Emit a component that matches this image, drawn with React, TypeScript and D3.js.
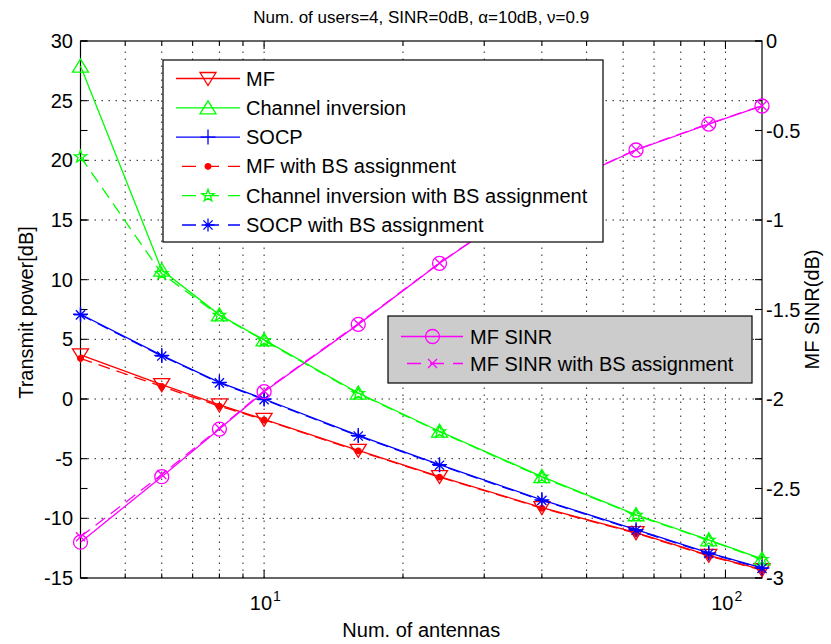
import React from "react";
import * as d3 from "d3";

// ---------- data ----------
const antennas = [4, 6, 8, 10, 16, 24, 40, 64, 92, 120];
const mfPower = [3.7, 1.2, -0.5, -1.7, -4.3, -6.5, -9.1, -11.2, -13.1, -14.3];
const ciPower = [27.9, 10.8, 7.05, 4.95, 0.5, -2.7, -6.5, -9.7, -11.8, -13.4];
const socpPower = [7.1, 3.65, 1.4, 0.0, -3.05, -5.5, -8.45, -10.95, -12.9, -14.15];
const mfBSPower = [3.4, 1.05, -0.6, -1.75, -4.35, -6.55, -9.15, -11.25, -13.15, -14.35];
const ciBSPower = [20.3, 10.5, 7.0, 4.9, 0.45, -2.75, -6.55, -9.75, -11.85, -13.45];
const socpBSPower = [7.05, 3.6, 1.35, -0.05, -3.1, -5.55, -8.5, -11.0, -12.95, -14.2];
const mfSinr = [-2.8, -2.434, -2.168, -1.959, -1.583, -1.242, -0.85, -0.609, -0.464, -0.363];
const mfSinrBS = [-2.77, -2.422, -2.163, -1.955, -1.58, -1.24, -0.85, -0.607, -0.462, -0.362];

const leftTicks = [-15, -10, -5, 0, 5, 10, 15, 20, 25, 30];
const rightTicks = [-3, -2.5, -2, -1.5, -1, -0.5, 0];
const xGridValues = [5, 6, 7, 8, 9, 10, 20, 30, 40, 50, 60, 70, 80, 90, 100];
const xMajorTicks = [10, 100];
const xMajorExponents = ["1", "2"];

const titleText = "Num. of users=4, SINR=0dB, \u03b1=10dB, \u03bd=0.9";
const xLabel = "Num. of antennas";
const yLeftLabel = "Transmit power[dB]";
const yRightLabel = "MF SINR(dB)";

const legend1Labels = [
  "MF",
  "Channel inversion",
  "SOCP",
  "MF with BS assignment",
  "Channel inversion with BS assignment",
  "SOCP with BS assignment",
];
const legend2Labels = ["MF SINR", "MF SINR with BS assignment"];

// ---------- layout ----------
const W = 831;
const H = 644;
const L = 80.5, R = 762, T = 41, B = 578;
const FONT = "'Liberation Sans', Arial, Helvetica, sans-serif";

const x = d3.scaleLog().domain([4, 120]).range([L, R]);
const yL = d3.scaleLinear().domain([-15, 30]).range([B, T]);
const yR = d3.scaleLinear().domain([-3, 0]).range([B, T]);

type Series = { values: number[]; color: string; dash: boolean; marker: string; axis: "L" | "R" };

const series: Series[] = [
  { values: mfPower, color: "#ff0000", dash: false, marker: "v", axis: "L" },
  { values: ciPower, color: "#00ff00", dash: false, marker: "^", axis: "L" },
  { values: socpPower, color: "#0000ff", dash: false, marker: "+", axis: "L" },
  { values: mfBSPower, color: "#ff0000", dash: true, marker: ".", axis: "L" },
  { values: ciBSPower, color: "#00ff00", dash: true, marker: "p", axis: "L" },
  { values: socpBSPower, color: "#0000ff", dash: true, marker: "*", axis: "L" },
  { values: mfSinr, color: "#ff00ff", dash: false, marker: "o", axis: "R" },
  { values: mfSinrBS, color: "#ff00ff", dash: true, marker: "x", axis: "R" },
];

function pentagram(r: number, ri: number) {
  const pts: string[] = [];
  for (let i = 0; i < 10; i++) {
    const rad = i % 2 === 0 ? r : ri;
    const a = -Math.PI / 2 + (i * Math.PI) / 5;
    pts.push(`${(rad * Math.cos(a)).toFixed(2)},${(rad * Math.sin(a)).toFixed(2)}`);
  }
  return "M" + pts.join("L") + "Z";
}

function markerPath(type: string): string {
  switch (type) {
    case "v":
      return "M-8,-6L8,-6L0,7Z";
    case "^":
      return "M-8,6L8,6L0,-7Z";
    case "+":
      return "M-7.5,0H7.5M0,-7.5V7.5";
    case "*": {
      const a = 6.5, d = 4.6;
      return `M${-a},0H${a}M0,${-a}V${a}M${-d},${-d}L${d},${d}M${-d},${d}L${d},${-d}`;
    }
    case "p":
      return pentagram(6.5, 2.6);
    case "o":
      return "M7,0A7,7 0 1,1 -7,0A7,7 0 1,1 7,0Z";
    case "x":
      return "M-4.5,-4.5L4.5,4.5M-4.5,4.5L4.5,-4.5";
    case ".":
      return "M2.8,0A2.8,2.8 0 1,1 -2.8,0A2.8,2.8 0 1,1 2.8,0Z";
  }
  return "";
}

function Marker({ type, color, cx, cy }: { type: string; color: string; cx: number; cy: number }) {
  const filled = type === ".";
  return (
    <path
      d={markerPath(type)}
      transform={`translate(${cx},${cy})`}
      fill={filled ? color : "none"}
      stroke={color}
      strokeWidth={1.3}
    />
  );
}

const DASH = "12 7";

export default function App() {
  const line = (s: Series) => {
    const ys = s.axis === "L" ? yL : yR;
    return d3
      .line<number>()
      .x((_, i) => x(antennas[i]))
      .y((v) => ys(v))(s.values) as string;
  };

  const l1Top = 60, l1Left = 163, l1Right = 603, l1Bottom = 242;
  const l1Row0 = 78.5, l1Step = 29.3;
  const l2Top = 316, l2Left = 388, l2Right = 752, l2Bottom = 383;
  const l2Row0 = 336.5, l2Step = 27;

  return (
    <svg
      width={W}
      height={H}
      style={{ position: "absolute", left: 0, top: 0, display: "block", background: "#fff" }}
      fontFamily={FONT}
    >
      <rect x={0} y={0} width={W} height={H} fill="#ffffff" />
      {/* grid */}
      <g stroke="#000" strokeWidth={1} strokeDasharray="1.5 5.5" opacity={0.85}>
        {xGridValues.map((v) => (
          <line key={"gx" + v} x1={x(v)} x2={x(v)} y1={B} y2={T} />
        ))}
        {leftTicks.slice(1, -1).map((v) => (
          <line key={"gy" + v} x1={L} x2={R} y1={yL(v)} y2={yL(v)} />
        ))}
      </g>

      {/* ticks */}
      <g stroke="#000" strokeWidth={1.1}>
        {xGridValues.map((v) => {
          const len = xMajorTicks.includes(v) ? 8 : 4.5;
          return (
            <g key={"tx" + v}>
              <line x1={x(v)} x2={x(v)} y1={B} y2={B - len} />
              <line x1={x(v)} x2={x(v)} y1={T} y2={T + len} />
            </g>
          );
        })}
        {leftTicks.map((v) => (
          <g key={"tyl" + v}>
            <line x1={L} x2={L + 7} y1={yL(v)} y2={yL(v)} />
            <line x1={R} x2={R - 7} y1={yL(v)} y2={yL(v)} />
          </g>
        ))}
        {rightTicks.map((v) => (
          <g key={"tyr" + v}>
            <line x1={L} x2={L + 7} y1={yR(v)} y2={yR(v)} />
            <line x1={R} x2={R - 7} y1={yR(v)} y2={yR(v)} />
          </g>
        ))}
      </g>

      {/* axes box */}
      <rect x={L} y={T} width={R - L} height={B - T} fill="none" stroke="#000" strokeWidth={1.2} />

      {/* tick labels */}
      <g fontSize={20} fill="#000">
        {leftTicks.map((v) => (
          <text key={"ll" + v} x={73} y={yL(v)} dy="0.35em" textAnchor="end">
            {v}
          </text>
        ))}
        {rightTicks.map((v) => (
          <text key={"rl" + v} x={766} y={yR(v)} dy="0.35em" textAnchor="start">
            {String(v)}
          </text>
        ))}
        {xMajorTicks.map((v, i) => (
          <g key={"xl" + v}>
            <text x={x(v) + 8} y={610} textAnchor="end">
              10
            </text>
            <text x={x(v) + 9} y={601} fontSize={14} textAnchor="start">
              {xMajorExponents[i]}
            </text>
          </g>
        ))}
      </g>

      {/* axis labels & title */}
      <text x={(L + R) / 2} y={23} fontSize={17} textAnchor="middle">
        {titleText}
      </text>
      <text x={(L + R) / 2} y={637} fontSize={20} textAnchor="middle">
        {xLabel}
      </text>
      <text
        transform={`translate(33,${(T + B) / 2 + 3}) rotate(-90)`}
        fontSize={20}
        textAnchor="middle"
      >
        {yLeftLabel}
      </text>
      <text
        transform={`translate(819,${(T + B) / 2}) rotate(-90)`}
        fontSize={20}
        textAnchor="middle"
      >
        {yRightLabel}
      </text>

      {/* data */}
      {series.map((s, si) => {
        const ys = s.axis === "L" ? yL : yR;
        return (
          <g key={"s" + si}>
            <path
              d={line(s)}
              fill="none"
              stroke={s.color}
              strokeWidth={1.3}
              strokeDasharray={s.dash ? DASH : undefined}
            />
            {s.values.map((v, i) => (
              <Marker key={i} type={s.marker} color={s.color} cx={x(antennas[i])} cy={ys(v)} />
            ))}
          </g>
        );
      })}

      {/* legend 1 */}
      <rect
        x={l1Left}
        y={l1Top}
        width={l1Right - l1Left}
        height={l1Bottom - l1Top}
        fill="#fff"
        stroke="#000"
        strokeWidth={1.2}
      />
      {legend1Labels.map((lab, i) => {
        const s = series[i];
        const cy = l1Row0 + i * l1Step;
        return (
          <g key={"lg1" + i}>
            <line
              x1={176}
              x2={240}
              y1={cy}
              y2={cy}
              stroke={s.color}
              strokeWidth={1.3}
              strokeDasharray={s.dash ? "14 9" : undefined}
              strokeDashoffset={s.dash ? -6 : undefined}
            />
            <Marker type={s.marker} color={s.color} cx={208} cy={cy} />
            <text x={246} y={cy} dy="0.35em" fontSize={20}>
              {lab}
            </text>
          </g>
        );
      })}

      {/* legend 2 */}
      <rect
        x={l2Left}
        y={l2Top}
        width={l2Right - l2Left}
        height={l2Bottom - l2Top}
        fill="#cccccc"
        stroke="#000"
        strokeWidth={1.2}
      />
      {legend2Labels.map((lab, i) => {
        const s = series[6 + i];
        const cy = l2Row0 + i * l2Step;
        return (
          <g key={"lg2" + i}>
            <line
              x1={401}
              x2={463}
              y1={cy}
              y2={cy}
              stroke={s.color}
              strokeWidth={1.3}
              strokeDasharray={s.dash ? "14 9" : undefined}
              strokeDashoffset={s.dash ? -6 : undefined}
            />
            <Marker type={s.marker} color={s.color} cx={432.5} cy={cy} />
            <text x={470} y={cy} dy="0.35em" fontSize={20}>
              {lab}
            </text>
          </g>
        );
      })}
    </svg>
  );
}
